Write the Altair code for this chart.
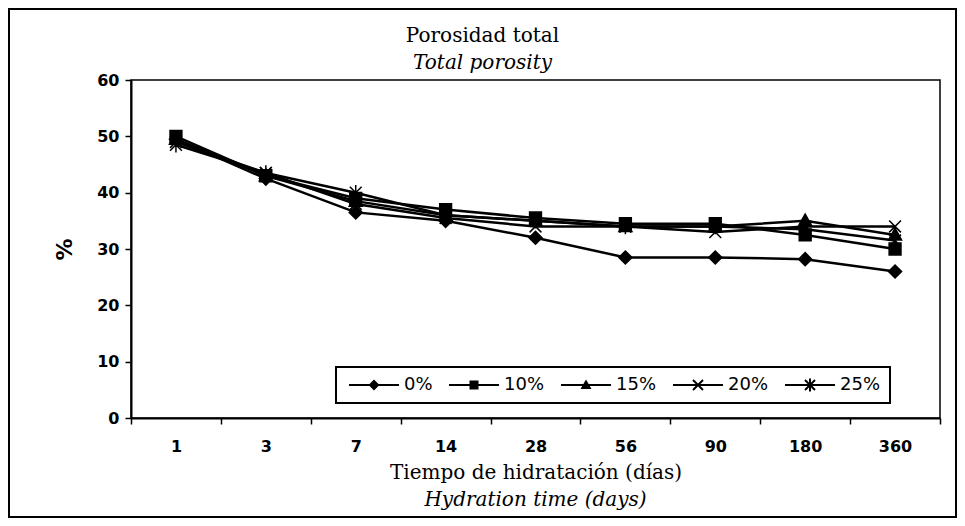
import altair as alt
import pandas as pd

days = ["1", "3", "7", "14", "28", "56", "90", "180", "360"]
series = ["0%", "10%", "15%", "20%", "25%"]
p0 = [49.5, 42.5, 36.5, 35.0, 32.0, 28.5, 28.5, 28.2, 26.0]
p10 = [50.0, 43.0, 39.0, 37.0, 35.5, 34.5, 34.5, 32.5, 30.0]
p15 = [49.5, 43.0, 38.5, 36.0, 35.0, 34.0, 34.0, 35.0, 32.5]
p20 = [49.0, 43.5, 38.0, 35.5, 34.0, 34.0, 33.0, 34.0, 34.0]
p25 = [48.5, 43.5, 40.0, 36.0, 35.0, 34.0, 34.0, 33.5, 31.5]
y_ticks = [0, 10, 20, 30, 40, 50, 60]

rows = []
for s, vals in zip(series, [p0, p10, p15, p20, p25]):
    for d, v in zip(days, vals):
        rows.append({"day": d, "series": s, "value": v})
df = pd.DataFrame(rows)

W, H = 809, 338

marker_paths = [
    "M0,-1.1L1.1,0L0,1.1L-1.1,0Z",
    "M-1,-1H1V1H-1Z",
    "M0,-1.15L1.1,0.85H-1.1Z",
    "M-1,-1L1,1M-1,1L1,-1",
    "M-1,-1L1,1M-1,1L1,-1M0,-1.3V1.3",
]
# legend glyphs: filled line segment plus the marker (all filled outlines)
LINE = "M-1,-0.22H9V0.22H-1Z"
DIAG1 = "M3.14,-1.14L5.14,0.86L4.86,1.14L2.86,-0.86Z"
DIAG2 = "M2.86,0.86L4.86,-1.14L5.14,-0.86L3.14,1.14Z"
VERT = "M4.2,-1.3L4.2,1.3L3.8,1.3L3.8,-1.3Z"
legend_paths = [
    LINE + "M4,-1.1L5.1,0L4,1.1L2.9,0Z",
    LINE + "M3.1,-0.9H4.9V0.9H3.1Z",
    LINE + "M4,-1.1L5.1,0.8H2.9Z",
    LINE + DIAG1 + DIAG2,
    LINE + DIAG1 + DIAG2 + VERT,
]

x_enc = alt.X(
    "day:N",
    scale=alt.Scale(type="band", domain=days, paddingInner=0, paddingOuter=0),
    bandPosition=0.5,
    axis=alt.Axis(
        title="Tiempo de hidratación (días)",
        titleFont="DejaVu Serif", titleFontSize=20, titleFontWeight="normal",
        titleColor="black", titlePadding=8,
        labelFont="DejaVu Sans", labelFontSize=16, labelFontWeight="bold",
        labelColor="black", labelAngle=0, labelPadding=14,
        tickBand="extent", tickSize=6, tickWidth=1.5, tickColor="black",
        domainColor="black", domainWidth=2, grid=False,
    ),
)
y_enc = alt.Y(
    "value:Q",
    scale=alt.Scale(domain=[0, 60], nice=False),
    axis=alt.Axis(
        values=y_ticks, title="%",
        titleFont="DejaVu Sans", titleFontSize=22, titleFontWeight="bold",
        titleColor="black", titlePadding=20,
        labelFont="DejaVu Sans", labelFontSize=16, labelFontWeight="bold",
        labelColor="black", labelPadding=6,
        tickSize=6, tickWidth=1.5, tickColor="black",
        domainColor="black", domainWidth=2, grid=False,
    ),
)

base = alt.Chart(df)

frame = alt.Chart(pd.DataFrame({"a": [0]})).mark_rect(
    fill=None, stroke="black", strokeWidth=2
).encode(
    x=alt.value(-122), x2=alt.value(W + 16), y=alt.value(-71), y2=alt.value(H + 99)
)

lines = base.mark_line(color="black", strokeWidth=2.5).encode(
    x=x_enc, y=y_enc, detail="series:N"
)

points = base.mark_point(
    filled=True, color="black", stroke="black", strokeWidth=1.5, size=140, opacity=1
).encode(
    x=x_enc, y=y_enc,
    shape=alt.Shape("series:N", scale=alt.Scale(domain=series, range=marker_paths), legend=None),
)

legend_layer = base.transform_filter("false").mark_point(
    filled=True, color="black", opacity=1
).encode(
    x=x_enc, y=y_enc,
    shape=alt.Shape(
        "series:N",
        scale=alt.Scale(domain=series, range=legend_paths),
        legend=alt.Legend(
            title=None, orient="none", legendX=205, legendY=287,
            direction="horizontal", columns=5,
            labelFont="DejaVu Sans", labelFontSize=18, labelColor="black",
            symbolSize=100, labelOffset=41, columnPadding=12,
            symbolFillColor="black", symbolStrokeWidth=0, symbolOpacity=1,
            strokeColor="black", fillColor="white", padding=9,
        ),
    ),
)

subtitle_text = alt.Chart(pd.DataFrame({"t": ["Hydration time (days)"]})).mark_text(
    font="DejaVu Serif", fontStyle="italic", fontSize=20, color="black", baseline="middle"
).encode(text="t:N", x=alt.value(W / 2), y=alt.value(H + 82))

chart = alt.layer(frame, lines, points, legend_layer, subtitle_text).resolve_scale(
    shape="independent"
).properties(
    width=W, height=H,
    title=alt.TitleParams(
        text="Porosidad total", subtitle="Total porosity",
        font="DejaVu Serif", fontSize=20, fontWeight="normal", color="black",
        subtitleFont="DejaVu Serif", subtitleFontSize=20, subtitleFontStyle="italic",
        subtitleColor="black", subtitlePadding=7,
        anchor="middle", frame="bounds", offset=-65,
    ),
    autosize=alt.AutoSizeParams(type="none"),
    padding={"left": 123, "top": 72, "right": 17, "bottom": 100},
    background="white",
).configure_view(stroke="black", strokeWidth=1.5).configure_legend(strokeWidth=2)

chart.save("out.html", embed_options={"renderer": "svg", "actions": False})
